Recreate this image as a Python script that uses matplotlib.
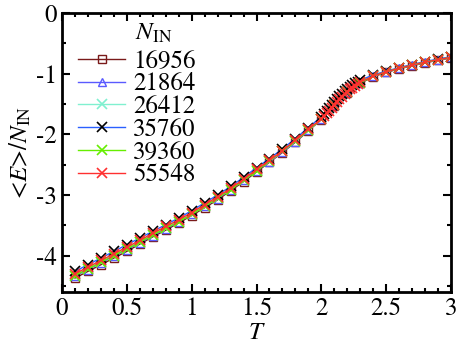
import numpy as np
import matplotlib
matplotlib.use('Agg')
from matplotlib import pyplot as plt
from matplotlib.ticker import MultipleLocator, FuncFormatter

plt.rcParams['font.family'] = ['STIXGeneral', 'Liberation Serif', 'DejaVu Serif']
plt.rcParams['mathtext.fontset'] = 'stix'

T = [0.1, 0.2, 0.3, 0.4, 0.5, 0.6, 0.7, 0.8, 0.9, 1.0,
     1.1, 1.2, 1.3, 1.4, 1.5, 1.6, 1.7, 1.8, 1.9, 2.0,
     2.1, 2.2, 2.3, 2.4, 2.5, 2.6, 2.7, 2.8, 2.9, 3.0]
T_dense = [0.1, 0.2, 0.3, 0.4, 0.5, 0.6, 0.7, 0.8, 0.9, 1.0,
           1.1, 1.2, 1.3, 1.4, 1.5, 1.6, 1.7, 1.8, 1.9, 2.0,
           2.02, 2.04, 2.06, 2.08, 2.10, 2.12, 2.14, 2.16, 2.18, 2.20,
           2.22, 2.24, 2.26, 2.28, 2.30,
           2.4, 2.5, 2.6, 2.7, 2.8, 2.9, 3.0]

E_16956 = [-4.37, -4.26, -4.15, -4.04, -3.93, -3.81, -3.69, -3.58, -3.46, -3.34,
           -3.21, -3.08, -2.93, -2.78, -2.62, -2.46, -2.30, -2.13, -1.94, -1.76,
           -1.53, -1.32, -1.16, -1.05, -0.98, -0.92, -0.87, -0.82, -0.78, -0.74]
E_21864 = [-4.34, -4.23, -4.12, -4.01, -3.90, -3.79, -3.67, -3.56, -3.44, -3.32,
           -3.19, -3.06, -2.91, -2.76, -2.60, -2.45, -2.29, -2.12, -1.93, -1.75,
           -1.52, -1.31, -1.15, -1.04, -0.97, -0.91, -0.86, -0.81, -0.77, -0.73]
E_26412 = [-4.32, -4.21, -4.10, -3.99, -3.88, -3.77, -3.65, -3.54, -3.43, -3.31,
           -3.18, -3.05, -2.90, -2.75, -2.59, -2.44, -2.28, -2.11, -1.93, -1.75,
           -1.52, -1.30, -1.14, -1.04, -0.97, -0.91, -0.86, -0.81, -0.77, -0.73]
E_35760 = [-4.26, -4.15, -4.04, -3.93, -3.82, -3.71, -3.60, -3.49, -3.38, -3.26,
           -3.13, -3.00, -2.86, -2.71, -2.55, -2.40, -2.24, -2.07, -1.89, -1.71,
           -1.66, -1.61, -1.56, -1.51, -1.46, -1.41, -1.37, -1.33, -1.29, -1.25,
           -1.22, -1.19, -1.16, -1.13, -1.11,
           -1.02, -0.96, -0.90, -0.85, -0.80, -0.76, -0.72]
E_39360 = [-4.33, -4.22, -4.11, -4.00, -3.89, -3.78, -3.66, -3.55, -3.44, -3.32,
           -3.19, -3.05, -2.91, -2.76, -2.60, -2.44, -2.28, -2.11, -1.93, -1.75,
           -1.52, -1.31, -1.15, -1.04, -0.97, -0.91, -0.86, -0.81, -0.77, -0.73]
E_55548 = [-4.30, -4.19, -4.08, -3.97, -3.86, -3.75, -3.63, -3.52, -3.41, -3.29,
           -3.16, -3.03, -2.89, -2.74, -2.58, -2.43, -2.27, -2.10, -1.92, -1.74,
           -1.70, -1.65, -1.61, -1.56, -1.51, -1.47, -1.42, -1.38, -1.34, -1.30,
           -1.26, -1.23, -1.20, -1.17, -1.14,
           -1.04, -0.97, -0.91, -0.86, -0.81, -0.77, -0.73]

fig = plt.figure(figsize=(4.58, 3.47), dpi=100)
ax = fig.add_axes([0.1354, 0.1585, 0.8493, 0.804])

ax.plot(T, E_16956, color='#7a1a1a', lw=1, marker='s', ms=6, mfc='none', mew=1, label='16956')
ax.plot(T, E_21864, color='#5a5aff', lw=1, marker='^', ms=6, mfc='none', mew=1, label='21864')
ax.plot(T, E_26412, color='#80f0d0', lw=1, marker='x', ms=7, mew=1.2, label='26412')
ax.plot(T_dense, E_35760, color='#2a60ff', lw=1, marker='x', ms=7, mec='black', mew=1.2, label='35760')
ax.plot(T, E_39360, color='#66ee00', lw=1, marker='x', ms=7, mew=1.2, label='39360')
ax.plot(T_dense, E_55548, color='#ff3030', lw=1, marker='x', ms=7, mew=1.2, label='55548')

ax.set_xlim(0, 3)
ax.set_ylim(-4.6, 0)
ax.xaxis.set_major_locator(MultipleLocator(0.5))
ax.xaxis.set_minor_locator(MultipleLocator(0.1))
ax.yaxis.set_major_locator(MultipleLocator(1))
ax.yaxis.set_minor_locator(MultipleLocator(0.5))
ax.tick_params(which='both', direction='in', top=True, right=True, width=1.5, labelsize=18)
ax.tick_params(which='major', length=6)
ax.tick_params(which='minor', length=3)
for s in ax.spines.values():
    s.set_linewidth(2)

ax.xaxis.set_major_formatter(FuncFormatter(lambda v, p: '%g' % v))
ax.yaxis.set_major_formatter(FuncFormatter(lambda v, p: '%g' % v))

ax.set_xlabel('$T$', fontsize=18, labelpad=0)
ax.set_ylabel('<$E$>/$N_{\\rm IN}$', fontsize=18, labelpad=2)

leg = ax.legend(loc='upper left', frameon=False, fontsize=18,
                handlelength=1.9, handletextpad=0.3, borderpad=0.4,
                labelspacing=-0.05, borderaxespad=0.0, bbox_to_anchor=(0.015, 0.905))
ax.text(0.187, 0.925, '$N_{\\rm IN}$', transform=ax.transAxes, fontsize=18,
        ha='left', va='center')

fig.savefig('out.png', dpi=100)
